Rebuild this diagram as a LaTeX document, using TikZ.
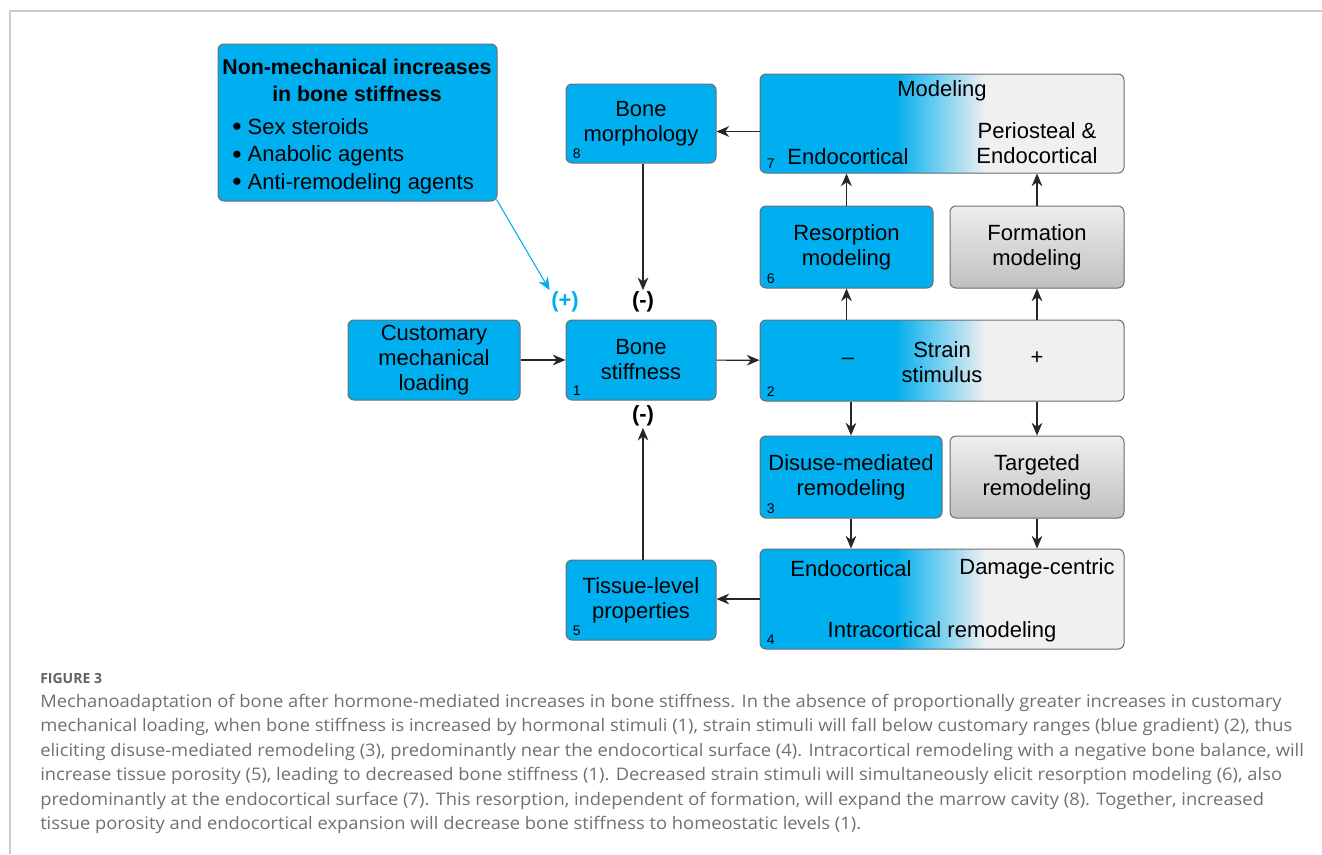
\documentclass[tikz,border=0pt]{standalone}
\usepackage{fontspec}
\setmainfont{Liberation Sans}
\newfontfamily\capfont{Open Sans}
\usetikzlibrary{arrows.meta,positioning}
\definecolor{cblue}{RGB}{0,175,239}
\definecolor{cgray}{RGB}{240,240,240}
\definecolor{boxline}{RGB}{110,110,110}
\definecolor{capgray}{RGB}{112,112,112}
\definecolor{framegray}{RGB}{204,204,204}
\pgfdeclarehorizontalshading{bluefade}{100bp}{color(0bp)=(cblue); color(43.5bp)=(cblue); color(56bp)=(cgray); color(100bp)=(cgray)}
\tikzset{
  box/.style={draw=boxline, line width=0.75pt, rounded corners=4.5pt,
              fill=cblue, align=center, inner sep=0pt},% blue boxes
  fade/.style={box, shade, shading=bluefade},% blue to grey boxes
  grey/.style={box, top color=gray!13, bottom color=gray!50},
  sz/.style 2 args={minimum width=#1*0.75pt, minimum height=#2*0.75pt},
}
\newcommand\bul{\raisebox{-0.08em}{\scalebox{1.2}{\textbullet}}\ }
\begin{document}
\begin{tikzpicture}[x=0.75pt, y=-0.75pt,
  font=\fontsize{16.5}{18.75}\selectfont,
  txt/.style={inner sep=0pt, align=center},
  num/.style={font=\fontsize{10.5}{12}\selectfont, anchor=south west, inner sep=0pt},
  sign/.style={font=\bfseries\fontsize{16.5}{18}\selectfont, inner sep=1pt},
  arr/.style={-{Stealth[length=9.5pt,width=8pt,inset=3pt]}, draw=black!85, line width=0.9pt},
  barr/.style={arr, draw=cblue, line width=0.8pt},
  captxt/.style={font=\capfont\fontsize{13}{15}\selectfont, text=capgray, inner sep=0pt, anchor=base west},
]
\useasboundingbox (0,0) rectangle (1322,854);
\draw[framegray, line width=0.9pt] (10,854) -- (10,11) -- (1322,11);
% boxes
\node[box, sz={279}{157}] (nm) at (357.5,122.5) {};
\node[txt, font=\bfseries\fontsize{16}{20.25}\selectfont] (nmt) at (357,80) {Non-mechanical increases\\in bone stiffness};
\node[txt, align=left, anchor=west, font=\fontsize{16.5}{20.6}\selectfont] (nml) at (232,156)
  {\bul Sex steroids\\\bul Anabolic agents\\\bul Anti-remodeling agents};
\node[box, sz={150}{79}] (b8) at (641,123.5) {Bone\\morphology};
\node[fade, sz={364}{99}] (b7) at (942,123.5) {};
\node[box, sz={173}{82}] (b6) at (846.5,247) {Resorption\\modeling};
\node[grey, sz={174}{82}] (bf) at (1037,247) {Formation\\modeling};
\node[box, sz={172}{80}] (bc) at (434,360) {Customary\\mechanical\\loading};
\node[box, sz={150}{80}] (b1) at (641,360) {Bone\\stiffness};
\node[fade, sz={364}{81}] (b2) at (942,360.5) {};
\node[box, sz={182}{82}] (b3) at (851,477) {Disuse-mediated\\remodeling};
\node[grey, sz={174}{82}] (bt) at (1037,477) {Targeted\\remodeling};
\node[fade, sz={364}{100}] (b4) at (942,599) {};
\node[box, sz={150}{80}] (b5) at (641,600) {Tissue-level\\properties};
% texts on the wide boxes
\node[txt] (b7a) at (942,91) {Modeling};
\node[txt] (b7b) at (848,157) {Endocortical};
\node[txt] (b7c) at (1037,143.5) {Periosteal \&\\Endocortical};
\node[txt] (b2a) at (848,361) {\textendash};
\node[txt] (b2b) at (942,362) {Strain\\stimulus};
\node[txt] (b2c) at (1037,358) {+};
\node[txt] (b4a) at (851,569) {Endocortical};
\node[txt] (b4b) at (1037,569) {Damage-centric};
\node[txt] (b4c) at (942,632) {Intracortical remodeling};
\foreach \b/\n in {b1/1,b2/2,b3/3,b4/4,b5/5,b6/6,b7/7,b8/8}
  \node[num] at ([shift={(7,-5)}]\b.south west) {\n};
% signs
\node[sign, text=cblue] (pl) at (565,302) {(+)};
\node[sign] (mt) at (643,302) {(-)};
\node[sign] (mb) at (643,416) {(-)};
% connectors
\draw[arr] (bc) -- (b1);
\draw[arr] (b1) -- (b2);
\draw[arr] (b6 |- b2.north) -- (b6.south);
\draw[arr] (b6.north) -- (b6 |- b7.south);
\draw[arr] (bf |- b2.north) -- (bf.south);
\draw[arr] (bf.north) -- (bf |- b7.south);
\draw[arr] (b3 |- b2.south) -- (b3.north);
\draw[arr] (b3.south) -- (b3 |- b4.north);
\draw[arr] (bt |- b2.south) -- (bt.north);
\draw[arr] (bt.south) -- (bt |- b4.north);
\draw[arr] ([yshift=-6pt]b7.west) -- ([yshift=-6pt]b7.west -| b8.east);
\draw[arr] (b4.west) -- (b4.west -| b5.east);
\draw[arr] (mt |- b8.south) -- (mt.north);
\draw[arr] (mb |- b5.north) -- (mb.south);
\draw[barr] ([shift={(-1,-2)}]nm.south east) -- (pl.north west);
% caption
\node[captxt, font=\capfont\bfseries\fontsize{10.5}{13}\selectfont, text=black!62] (fig) at (40,683) {FIGURE 3};
\foreach \t [count=\i] in {
  {Mechanoadaptation of bone after hormone-mediated increases in bone stiffness. In the absence of proportionally greater increases in customary},
  {mechanical loading, when bone stiffness is increased by hormonal stimuli (1), strain stimuli will fall below customary ranges (blue gradient) (2), thus},
  {eliciting disuse-mediated remodeling (3), predominantly near the endocortical surface (4). Intracortical remodeling with a negative bone balance, will},
  {increase tissue porosity (5), leading to decreased bone stiffness (1). Decreased strain stimuli will simultaneously elicit resorption modeling (6), also},
  {predominantly at the endocortical surface (7). This resorption, independent of formation, will expand the marrow cavity (8). Together, increased},
  {tissue porosity and endocortical expansion will decrease bone stiffness to homeostatic levels (1).}}
  \node[captxt] (c\i) at (40,{707+24.5*(\i-1)}) {\scalebox{1.058}[1]{\t}};
\end{tikzpicture}
\end{document}
